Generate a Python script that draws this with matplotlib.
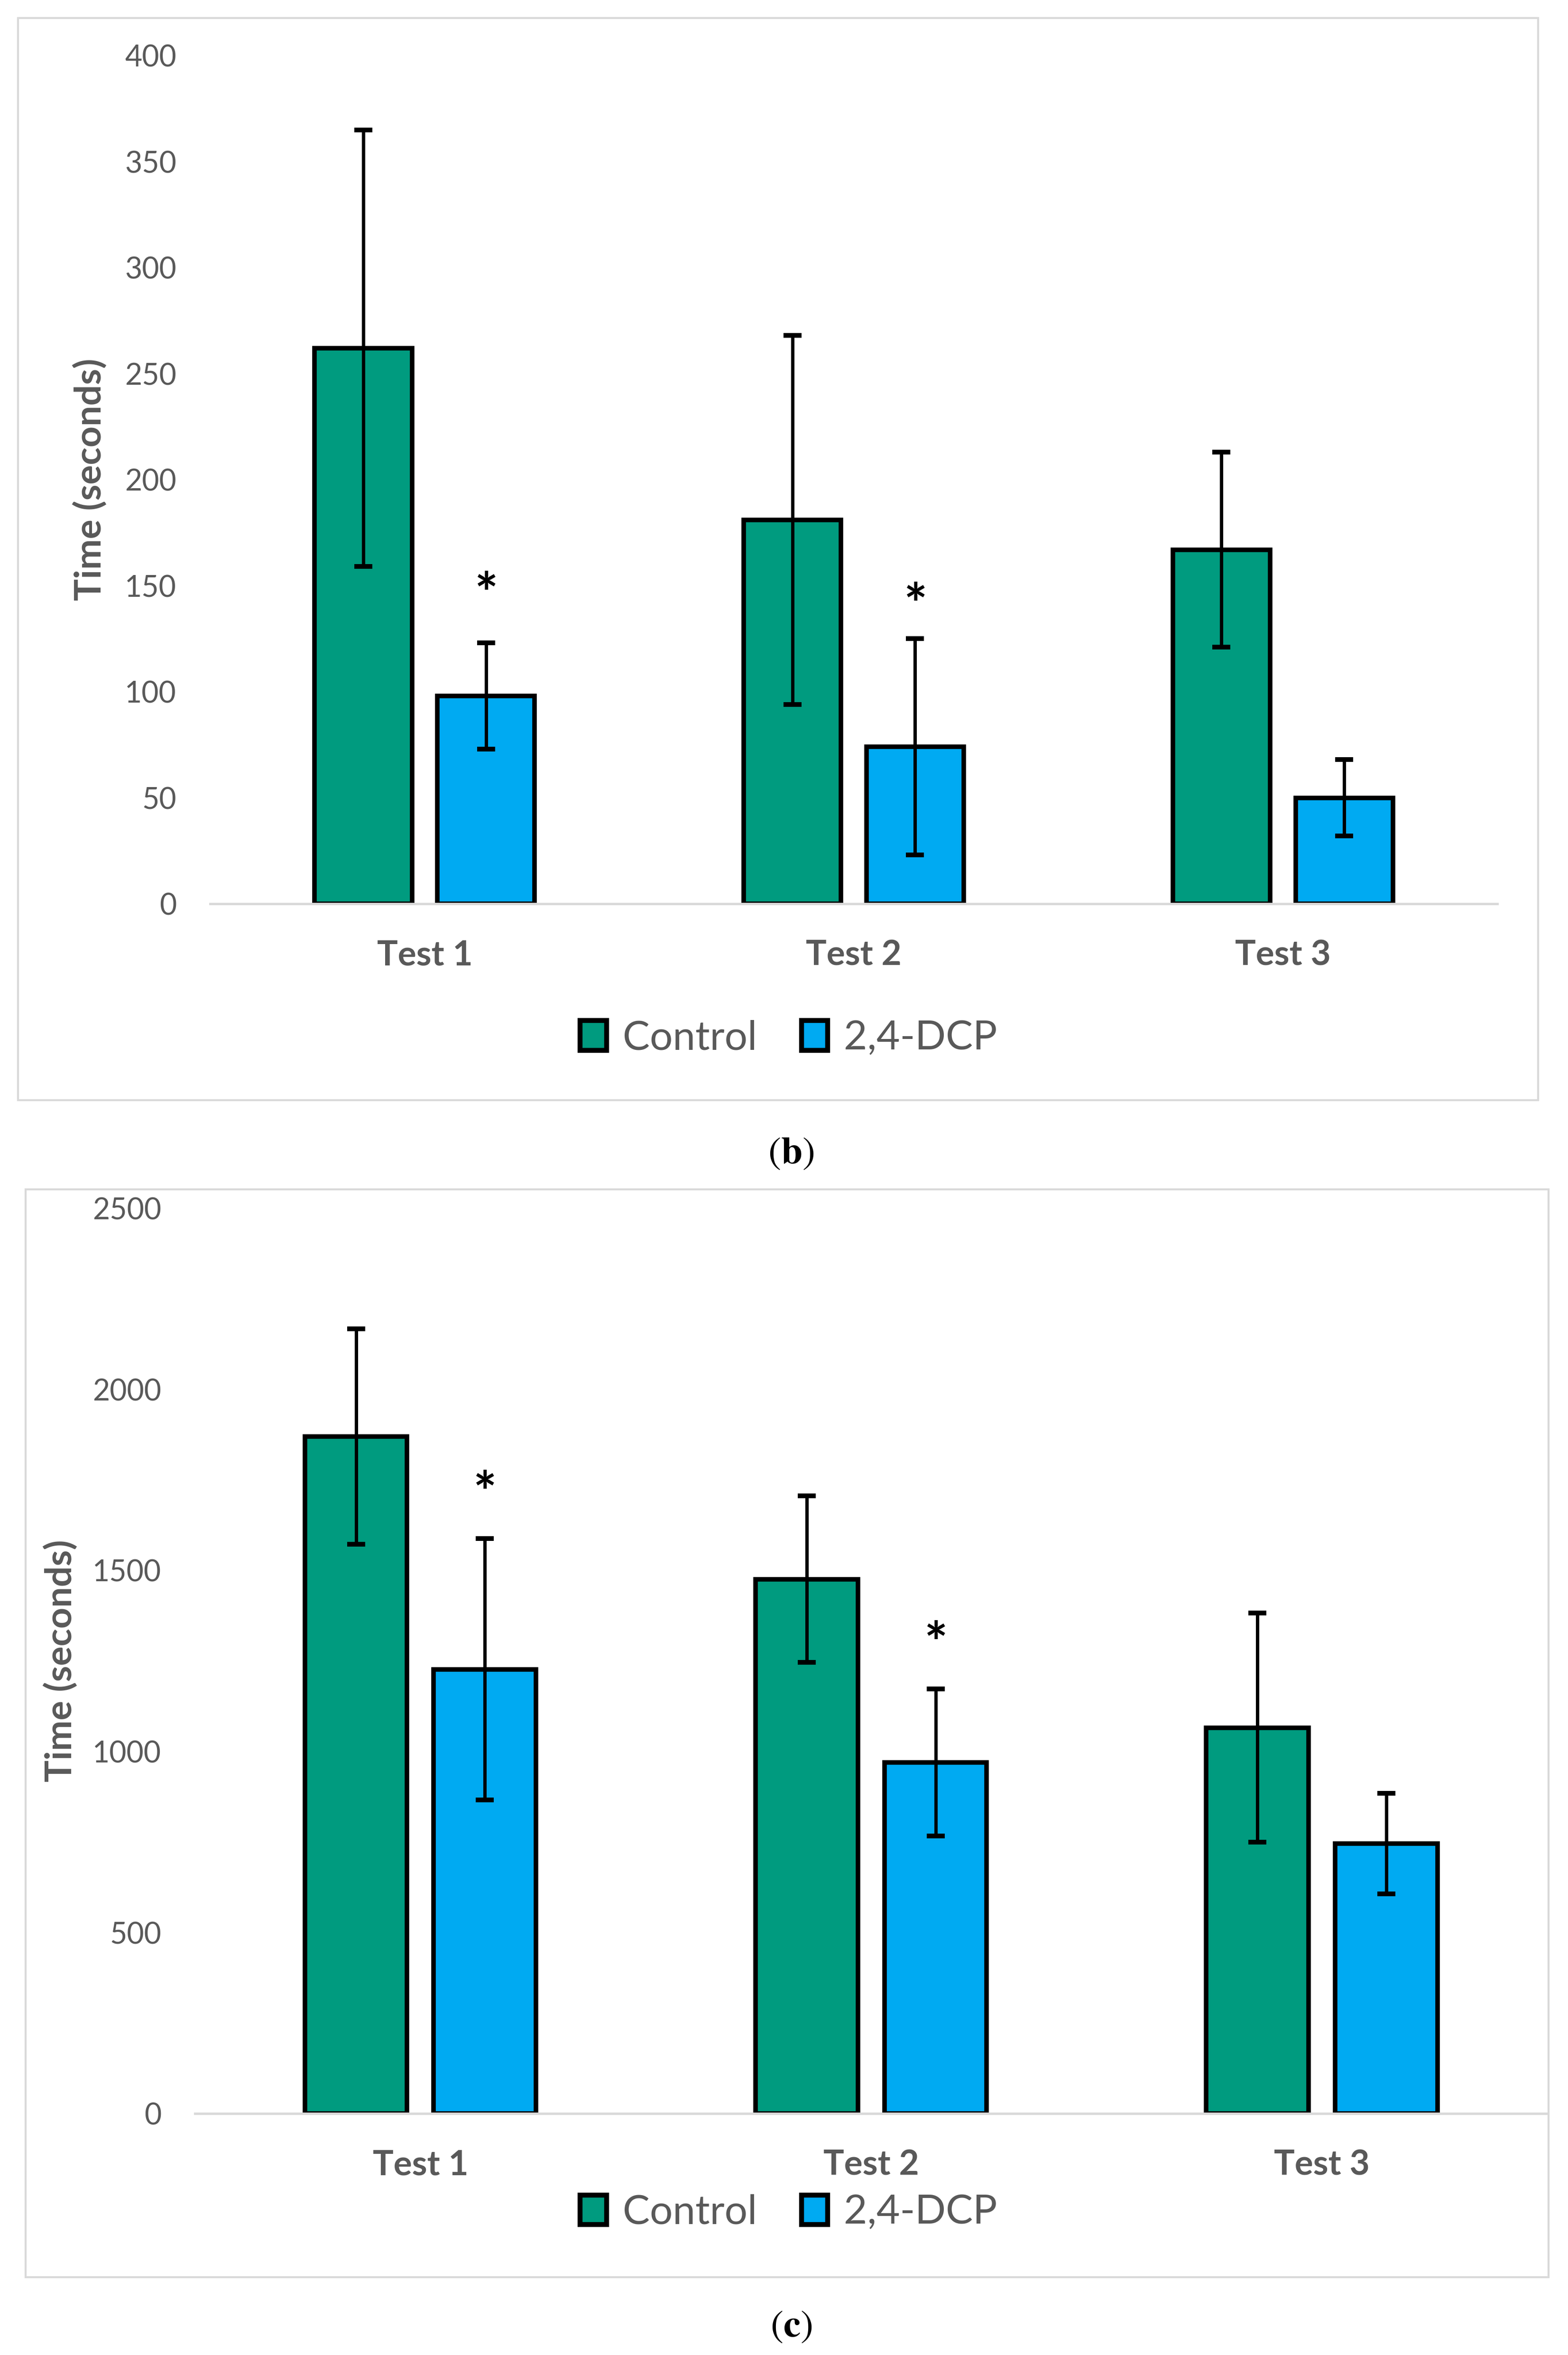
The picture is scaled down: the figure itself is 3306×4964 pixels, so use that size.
import matplotlib.pyplot as plt
from matplotlib.patches import Rectangle, Patch
import numpy as np

# data definition
tests = ['Test 1', 'Test 2', 'Test 3']
series = ['Control', '2,4-DCP']

# panel (b)
b_control = [262, 181, 167]
b_control_sd = [103, 87, 46]
b_dcp = [98, 74, 50]
b_dcp_sd = [25, 51, 18]
b_star_y = [153, 148]          # asterisk heights over 2,4-DCP bars of Test 1 and Test 2

# panel (c)
c_control = [1870, 1476, 1066]
c_control_sd = [297, 230, 316]
c_dcp = [1227, 970, 746]
c_dcp_sd = [361, 203, 139]
c_star_y = [1754, 1339]

green = '#009B7F'
blue = '#00AAF2'
grey_text = '#595959'
font = 'Lato'

plt.rcParams['font.family'] = [font, 'DejaVu Sans']

fig = plt.figure(figsize=(3306 / 300, 4964 / 300), dpi=300)


def draw_panel(rect, control, control_sd, dcp, dcp_sd, star_y, ymax, step,
               label_x, legend_y, frame):
    ax = fig.add_axes(rect)
    x = np.arange(len(tests))
    width = 0.227
    off = 0.143
    err_kw = dict(ecolor='black', elinewidth=1.7, capthick=2.4, zorder=5)
    ax.bar(x - off, control, width, color=green, edgecolor='black', linewidth=2.3,
           yerr=control_sd, capsize=4.5, error_kw=err_kw, zorder=2, label=series[0])
    ax.bar(x + off, dcp, width, color=blue, edgecolor='black', linewidth=2.3,
           yerr=dcp_sd, capsize=4.5, error_kw=err_kw, zorder=2, label=series[1])
    # significance asterisks (glyph sits high in its line box, so shift down)
    for i, sy in enumerate(star_y):
        ax.annotate('*', (x[i] + off, sy), xytext=(0, -9), textcoords='offset points',
                    ha='center', va='center', fontsize=28, fontweight='bold',
                    color='black')

    ax.set_xlim(-0.5, 2.5)
    ax.set_ylim(0, ymax)
    ax.set_yticks(np.arange(0, ymax + 1, step))
    ax.set_xticks(x)
    ax.set_xticklabels(tests, fontsize=17.5, fontweight='bold', color=grey_text)
    ax.tick_params(axis='y', length=0, pad=17, labelsize=15, labelcolor=grey_text)
    ax.tick_params(axis='x', length=0, pad=18)
    for s in ax.spines.values():
        s.set_visible(False)
    ax.axhline(0, color='#d9d9d9', lw=1.2, zorder=3, clip_on=False)

    fig.text(label_x, rect[1] + rect[3] / 2, 'Time (seconds)', rotation=90,
             ha='center', va='center', fontsize=18.5, fontweight='bold', color=grey_text)

    handles = [Patch(facecolor=green, edgecolor='black', linewidth=2.5),
               Patch(facecolor=blue, edgecolor='black', linewidth=2.5)]
    fig.legend(handles, series, loc='center', bbox_to_anchor=(0.503, legend_y),
               ncol=2, frameon=False, fontsize=20.5, labelcolor=grey_text,
               handlelength=0.65, handleheight=0.75, handletextpad=0.4, columnspacing=1.1)

    fig.add_artist(Rectangle((frame[0], frame[1]), frame[2], frame[3],
                             transform=fig.transFigure, fill=False,
                             edgecolor='#d9d9d9', lw=1.0))
    return ax


draw_panel([0.134, 0.6162, 0.821, 0.3602], b_control, b_control_sd, b_dcp, b_dcp_sd,
           b_star_y, 400, 50, 0.0575, 0.5592, (0.0115, 0.5328, 0.9695, 0.4595))
draw_panel([0.1244, 0.1025, 0.8623, 0.3844], c_control, c_control_sd, c_dcp, c_dcp_sd,
           c_star_y, 2500, 500, 0.0385, 0.0605, (0.0163, 0.033, 0.9713, 0.462))

fig.text(0.5045, 0.5103, r'$(\mathbf{b})$', ha='center', va='center', fontsize=19.5,
         math_fontfamily='stix')
fig.text(0.5045, 0.012, r'$(\mathbf{c})$', ha='center', va='center', fontsize=19.5,
         math_fontfamily='stix')

plt.savefig('out.png', dpi=300, facecolor='white')
